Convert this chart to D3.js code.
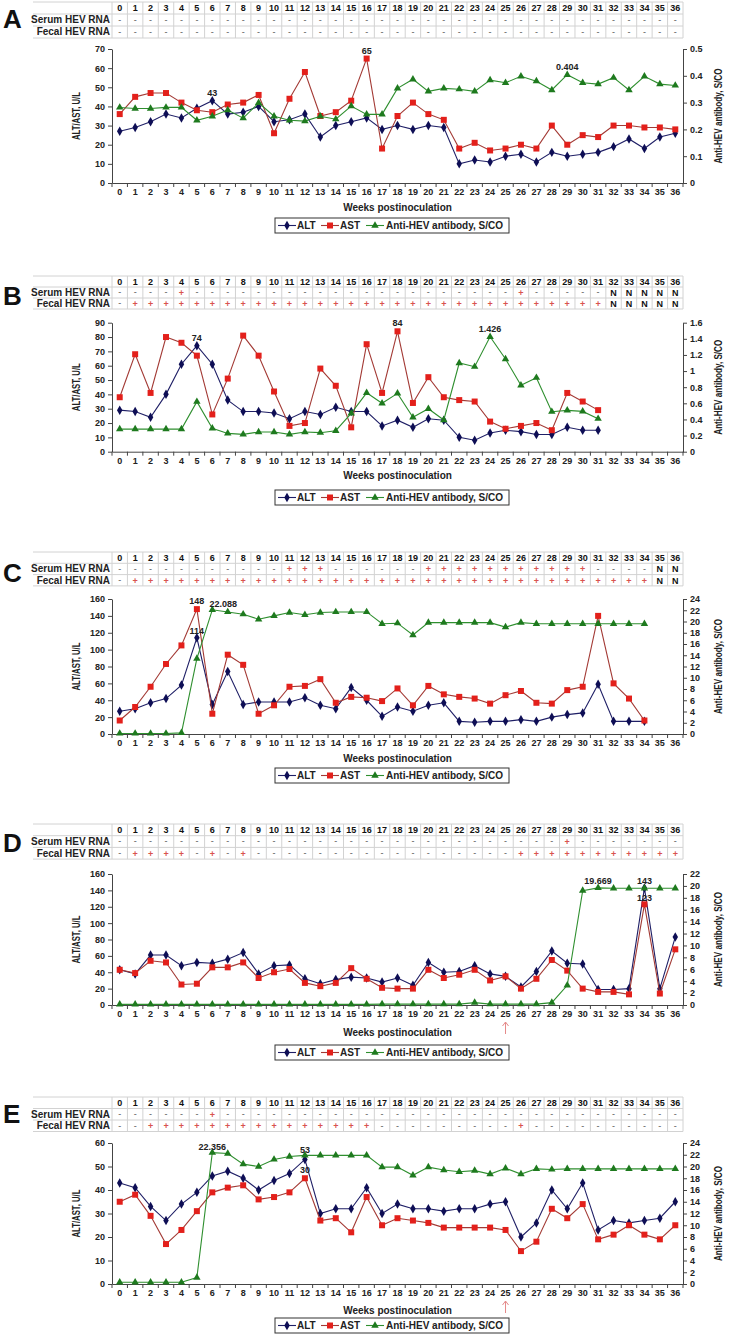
<!DOCTYPE html>
<html><head><meta charset="utf-8">
<script src="https://cdn.jsdelivr.net/npm/d3@7"></script>
<style>
body{margin:0;background:#fff}
svg{display:block}
text{font-family:"Liberation Sans",Arial,sans-serif}
</style>
</head><body>
<svg id="c" width="737" height="1340"></svg>
<script>
const weeks = [0,1,2,3,4,5,6,7,8,9,10,11,12,13,14,15,16,17,18,19,20,21,22,23,24,25,26,27,28,29,30,31,32,33,34,35,36];

// ---- Panel A ----
const altA = [27,29,32,36,34,39,43,36,37,40,32,33,36,24,30,32,34,28,30,28,30,29,10,12,11,14,15,11,16,14,15,16,19,23,18,24,26];
const astA = [36,45,47,47,42,38,37,41,42,46,26,44,58,35,37,43,65,18,35,42,36,33,18,21,17,18,20,18,30,20,25,24,30,30,29,29,28];
const abA  = [0.282,0.278,0.278,0.282,0.282,0.234,0.249,0.272,0.242,0.299,0.249,0.234,0.231,0.249,0.238,0.287,0.256,0.256,0.353,0.387,0.342,0.353,0.350,0.342,0.384,0.374,0.398,0.380,0.347,0.404,0.374,0.369,0.393,0.347,0.398,0.369,0.364];
const serumA = "----- ----- ----- ----- ----- ----- ----- --";
const fecalA = "----- ----- ----- ----- ----- ----- ----- --";
const leftTicksA = [0,10,20,30,40,50,60,70];
const rightTicksA = [0,0.1,0.2,0.3,0.4,0.5];
const notesA = [{s:"alt",w:6,t:"43"},{s:"ast",w:16,t:"65"},{s:"ab",w:29,t:"0.404"}];

// ---- Panel B ----
const altB = [29,28,24,40,61,74,61,36,28,28,27,23,28,26,31,28,28,18,22,17,23,22,10,8,13,15,14,12,12,17,15,15];
const astB = [38,68,41,80,76,67,26,51,81,67,42,18,20,58,46,17,75,41,84,34,52,38,36,35,21,16,18,20,15,41,35,29];
const abB  = [0.28,0.28,0.28,0.28,0.28,0.62,0.29,0.227,0.215,0.244,0.244,0.215,0.244,0.236,0.26,0.475,0.73,0.6,0.723,0.426,0.533,0.393,1.1,1.054,1.426,1.149,0.823,0.918,0.496,0.513,0.5,0.409];
const serumB = "----+ ----- ----- ----- ----- -+--- --NNN NN";
const fecalB = "-++++ +++++ +++++ +++++ +++++ +++++ ++NNN NN";
const leftTicksB = [0,10,20,30,40,50,60,70,80,90];
const rightTicksB = [0,0.2,0.4,0.6,0.8,1,1.2,1.4,1.6];
const notesB = [{s:"alt",w:5,t:"74"},{s:"ast",w:18,t:"84"},{s:"ab",w:24,t:"1.426"}];

// ---- Panel C ----
const altC = [27,30,37,42,58,114,35,74,35,38,38,38,43,34,30,55,40,21,32,27,34,37,15,14,15,15,17,15,20,23,25,59,15,15,15];
const astC = [16,32,56,83,105,148,24,94,82,24,34,56,57,65,37,44,43,39,54,34,57,47,44,42,36,46,51,37,36,52,56,140,60,42,16];
const abC  = [0.1,0.1,0.1,0.1,0.2,13.4,22.088,21.7,21.3,20.4,21.0,21.6,21.2,21.6,21.7,21.7,21.7,19.6,19.7,17.6,19.8,19.8,19.8,19.8,19.8,19.0,19.8,19.6,19.6,19.6,19.6,19.6,19.6,19.6,19.6];
const serumC = "----- ----- -+++- ----- +++++ +++++ +---- NN";
const fecalC = "-++++ +++++ +++++ +++++ +++++ +++++ +++++ NN";
const leftTicksC = [0,20,40,60,80,100,120,140,160];
const rightTicksC = [0,2,4,6,8,10,12,14,16,18,20,22,24];
const notesC = [{s:"ast",w:5,t:"148"},{s:"alt",w:5,t:"114",dy:-4},{s:"ab",w:6,t:"22.088",dx:11,dy:-3}];

// ---- Panel D ----
const altD = [43,38,61,61,48,52,51,56,64,38,48,49,32,26,31,34,33,28,33,24,52,40,41,48,38,35,22,41,66,51,50,19,19,20,143,20,83];
const astD = [43,39,54,52,25,26,46,46,52,33,40,44,27,23,27,45,32,21,20,20,43,33,37,43,30,35,20,32,55,42,20,16,16,13,123,14,68];
const abD  = [0.1,0.1,0.1,0.1,0.1,0.1,0.1,0.1,0.1,0.1,0.1,0.1,0.1,0.1,0.1,0.1,0.1,0.15,0.15,0.15,0.15,0.15,0.15,0.4,0.15,0.15,0.15,0.15,0.4,3.3,19.2,19.669,19.6,19.6,19.6,19.6,19.6];
const serumD = "----- ----- ----- ----- ----- ----+ ----- --";
const fecalD = "-++++ -+-+- ----- ----- ----- -++++ +++++ ++";
const leftTicksD = [0,20,40,60,80,100,120,140,160];
const rightTicksD = [0,2,4,6,8,10,12,14,16,18,20,22];
const notesD = [{s:"ab",w:31,t:"19.669",dy:-4},{s:"alt",w:34,t:"143",dy:-4},{s:"ast",w:34,t:"123",dy:-3}];

// ---- Panel E ----
const altE = [43,41,33,27,34,39,46,48,45,40,44,47,53,30,32,32,41,30,34,32,32,31,32,32,34,35,20,26,40,32,43,23,27,26,27,28,35];
const astE = [35,38,29,17,23,31,39,41,42,36,37,39,45,27,28,22,37,25,28,27,26,24,24,24,24,23,14,18,32,28,34,19,21,25,21,19,25];
const abE  = [0.3,0.3,0.3,0.3,0.3,1.1,22.356,22.2,20.4,20.0,21.2,21.7,21.9,21.9,21.9,21.9,21.9,19.9,19.9,18.5,19.9,19.4,19.1,19.3,18.7,19.7,18.7,19.6,19.5,19.6,19.6,19.6,19.6,19.6,19.6,19.6,19.6];
const serumE = "----- -+--- ----- ----- ----- ----- ----- --";
const fecalE = "--+++ +++++ +++++ ++--- ----- -+--- ----- --";
const leftTicksE = [0,10,20,30,40,50,60];
const rightTicksE = [0,2,4,6,8,10,12,14,16,18,20,22,24];
const notesE = [{s:"ab",w:6,t:"22.356",dy:-3},{s:"alt",w:12,t:"53",dy:-6},{s:"ast",w:12,t:"30",dy:-5}];

const rowLabels = ["Serum HEV RNA","Fecal HEV RNA"];
const legendLabels = ["ALT","AST","Anti-HEV antibody, S/CO"];
const xTitle = "Weeks postinoculation";
const yLeftTitle = "ALT/AST, U/L";
const yRightTitle = "Anti-HEV antibody, S/CO";

const panels = [
  {letter:"A", letterY:28, tableTop:2, rowH:12, plotTop:49, plotBottom:183, titleY:211, legendY:218,
   alt:altA, ast:astA, ab:abA, serum:serumA, fecal:fecalA, lt:leftTicksA, rt:rightTicksA, notes:notesA, arrow:null},
  {letter:"B", letterY:305, tableTop:276, rowH:11, plotTop:322.7, plotBottom:451.7, titleY:479, legendY:490,
   alt:altB, ast:astB, ab:abB, serum:serumB, fecal:fecalB, lt:leftTicksB, rt:rightTicksB, notes:notesB, arrow:null},
  {letter:"C", letterY:582, tableTop:552, rowH:11.3, plotTop:599, plotBottom:734, titleY:762, legendY:768,
   alt:altC, ast:astC, ab:abC, serum:serumC, fecal:fecalC, lt:leftTicksC, rt:rightTicksC, notes:notesC, arrow:null},
  {letter:"D", letterY:852, tableTop:824, rowH:11.7, plotTop:874, plotBottom:1005, titleY:1036, legendY:1045,
   alt:altD, ast:astD, ab:abD, serum:serumD, fecal:fecalD, lt:leftTicksD, rt:rightTicksD, notes:notesD, arrow:25},
  {letter:"E", letterY:1123, tableTop:1097, rowH:11.5, plotTop:1143, plotBottom:1284, titleY:1314, legendY:1318,
   alt:altE, ast:astE, ab:abE, serum:serumE, fecal:fecalE, lt:leftTicksE, rt:rightTicksE, notes:notesE, arrow:25}
];

const COL = {
  altLine:"#1f1f66", altMark:"#0e0e55",
  astLine:"#a33a35", astMark:"#e3201b",
  abLine:"#2f8f2f", abMark:"#1e7a1e",
  grid:"#d2d2d2", axis:"#444"
};

const svg = d3.select("#c");
const X0 = 112, X1 = 683, TL = 33;
const x = d3.scaleBand().domain(weeks).range([X0, X1]);
const cx = w => x(w) + x.bandwidth() / 2;
const fmt = d3.format("~g");

function drawPanel(p) {
  const g = svg.append("g");
  g.append("text").attr("x", 3).attr("y", p.letterY)
    .attr("font-size", 26).attr("font-weight", "bold").attr("fill", "#111").text(p.letter);

  // ---- table ----
  const tb = p.tableTop + 3 * p.rowH;
  for (let r = 0; r <= 3; r++) {
    g.append("line").attr("x1", TL).attr("x2", X1)
      .attr("y1", p.tableTop + r * p.rowH).attr("y2", p.tableTop + r * p.rowH)
      .attr("stroke", COL.grid).attr("stroke-width", 1);
  }
  weeks.concat(["end"]).forEach(w => {
    const xx = w === "end" ? X1 : x(w);
    g.append("line").attr("x1", xx).attr("x2", xx).attr("y1", p.tableTop).attr("y2", tb)
      .attr("stroke", COL.grid).attr("stroke-width", 1);
  });
  g.selectAll(".hdr").data(weeks).join("text")
    .attr("x", d => cx(d)).attr("y", p.tableTop + p.rowH / 2 + 3.3)
    .attr("text-anchor", "middle").attr("font-size", 9).attr("font-weight", "bold").attr("fill", "#111")
    .text(d => d);
  [p.serum, p.fecal].forEach((str, ri) => {
    const vals = str.replace(/ /g, "").split("");
    const yy = p.tableTop + (ri + 1) * p.rowH + p.rowH / 2 + 3.3;
    g.append("text").attr("x", X0 - 2).attr("y", yy).attr("text-anchor", "end")
      .attr("font-size", 10).attr("font-weight", "bold").attr("fill", "#222").text(rowLabels[ri]);
    g.selectAll(".cell" + ri).data(vals).join("text")
      .attr("x", (d, i) => cx(weeks[i])).attr("y", d => d === "-" ? yy - 0.5 : yy)
      .attr("text-anchor", "middle")
      .attr("font-size", 9)
      .attr("font-weight", d => d === "-" ? "normal" : "bold")
      .attr("fill", d => d === "+" ? "#d9534f" : (d === "N" ? "#111" : "#555"))
      .text(d => d);
  });

  // ---- scales ----
  const lMax = p.lt[p.lt.length - 1], rMax = p.rt[p.rt.length - 1];
  const yL = d3.scaleLinear().domain([0, lMax]).range([p.plotBottom, p.plotTop]);
  const yR = d3.scaleLinear().domain([0, rMax]).range([p.plotBottom, p.plotTop]);

  const la = g.append("g").attr("transform", `translate(${X0},0)`)
    .call(d3.axisLeft(yL).tickValues(p.lt).tickSize(4).tickSizeOuter(0).tickPadding(3));
  const ra = g.append("g").attr("transform", `translate(${X1},0)`)
    .call(d3.axisRight(yR).tickValues(p.rt).tickFormat(fmt).tickSize(4).tickSizeOuter(0).tickPadding(3));
  [la, ra].forEach(a => {
    a.select(".domain").attr("stroke", COL.axis);
    a.selectAll(".tick line").attr("stroke", COL.axis);
    a.selectAll(".tick text").attr("font-size", 9).attr("font-weight", "bold").attr("fill", "#222")
      .attr("font-family", '"Liberation Sans",Arial,sans-serif');
  });
  const ba = g.append("g").attr("transform", `translate(0,${p.plotBottom})`)
    .call(d3.axisBottom(x).tickSize(0).tickPadding(6));
  ba.select(".domain").attr("stroke", COL.axis);
  ba.selectAll(".tick text").attr("font-size", 9).attr("font-weight", "bold").attr("fill", "#222")
    .attr("font-family", '"Liberation Sans",Arial,sans-serif');
  weeks.concat(["end"]).forEach(w => {
    const xx = w === "end" ? X1 : x(w);
    g.append("line").attr("x1", xx).attr("x2", xx).attr("y1", p.plotBottom).attr("y2", p.plotBottom + 4)
      .attr("stroke", COL.axis);
  });

  const midY = (p.plotTop + p.plotBottom) / 2;
  g.append("text").attr("transform", `translate(80,${midY}) rotate(-90)`)
    .attr("text-anchor", "middle").attr("font-size", 10.5).attr("font-weight", "bold").attr("fill", "#222")
    .attr("textLength", 48).attr("lengthAdjust", "spacingAndGlyphs").text(yLeftTitle);
  g.append("text").attr("transform", `translate(722,${midY}) rotate(-90)`)
    .attr("text-anchor", "middle").attr("font-size", 10.5).attr("font-weight", "bold").attr("fill", "#222")
    .attr("textLength", 95).attr("lengthAdjust", "spacingAndGlyphs").text(yRightTitle);
  g.append("text").attr("x", (X0 + X1) / 2).attr("y", p.titleY).attr("text-anchor", "middle")
    .attr("font-size", 10).attr("font-weight", "bold").attr("fill", "#222").text(xTitle);

  // ---- series ----
  const series = [
    {k:"alt", data:p.alt, y:yL, line:COL.altLine, mark:COL.altMark, sym:d3.symbolDiamond, size:26},
    {k:"ast", data:p.ast, y:yL, line:COL.astLine, mark:COL.astMark, sym:d3.symbolSquare, size:36},
    {k:"ab",  data:p.ab,  y:yR, line:COL.abLine,  mark:COL.abMark,  sym:d3.symbolTriangle, size:24}
  ];
  const byKey = {};
  series.forEach(s => {
    byKey[s.k] = s;
    const line = d3.line().x((d, i) => cx(weeks[i])).y(d => s.y(d));
    g.append("path").attr("d", line(s.data)).attr("fill", "none")
      .attr("stroke", s.line).attr("stroke-width", 1.1);
    g.selectAll(".m" + s.k).data(s.data).join("path")
      .attr("transform", (d, i) => `translate(${cx(weeks[i])},${s.y(d)})`)
      .attr("d", d3.symbol().type(s.sym).size(s.size)).attr("fill", s.mark);
  });

  p.notes.forEach(n => {
    const s = byKey[n.s];
    g.append("text").attr("x", cx(n.w) + (n.dx || 0)).attr("y", s.y(s.data[n.w]) + (n.dy || -5))
      .attr("text-anchor", "middle").attr("font-size", 9).attr("font-weight", "bold").attr("fill", "#222")
      .text(n.t);
  });

  if (p.arrow !== null) {
    const ax = cx(p.arrow), ay0 = p.plotBottom + 17, ay1 = p.plotBottom + 29;
    g.append("line").attr("x1", ax).attr("x2", ax).attr("y1", ay0).attr("y2", ay1)
      .attr("stroke", "#e58a8a").attr("stroke-width", 1);
    g.append("path").attr("d", `M${ax - 3},${ay0 + 4}L${ax},${ay0}L${ax + 3},${ay0 + 4}`)
      .attr("fill", "none").attr("stroke", "#e58a8a").attr("stroke-width", 1);
  }

  const L = 275, LY = p.legendY;
  const lg = g.append("g");
  lg.append("rect").attr("x", L).attr("y", LY).attr("width", 234).attr("height", 15)
    .attr("fill", "#fff").attr("stroke", "#333").attr("stroke-width", 1);
  const offs = [[3, 22], [46, 65], [91, 111]];
  series.forEach((s, i) => {
    const x0 = L + offs[i][0], x1 = x0 + 18, yy = LY + 7.5;
    lg.append("line").attr("x1", x0).attr("x2", x1).attr("y1", yy).attr("y2", yy)
      .attr("stroke", s.line).attr("stroke-width", 1.1);
    lg.append("path").attr("transform", `translate(${(x0 + x1) / 2},${yy})`)
      .attr("d", d3.symbol().type(s.sym).size(s.size)).attr("fill", s.mark);
    lg.append("text").attr("x", L + offs[i][1]).attr("y", LY + 11)
      .attr("font-size", 10).attr("font-weight", "bold").attr("fill", "#222").text(legendLabels[i]);
  });
}

panels.forEach(drawPanel);
</script>
</body></html>
